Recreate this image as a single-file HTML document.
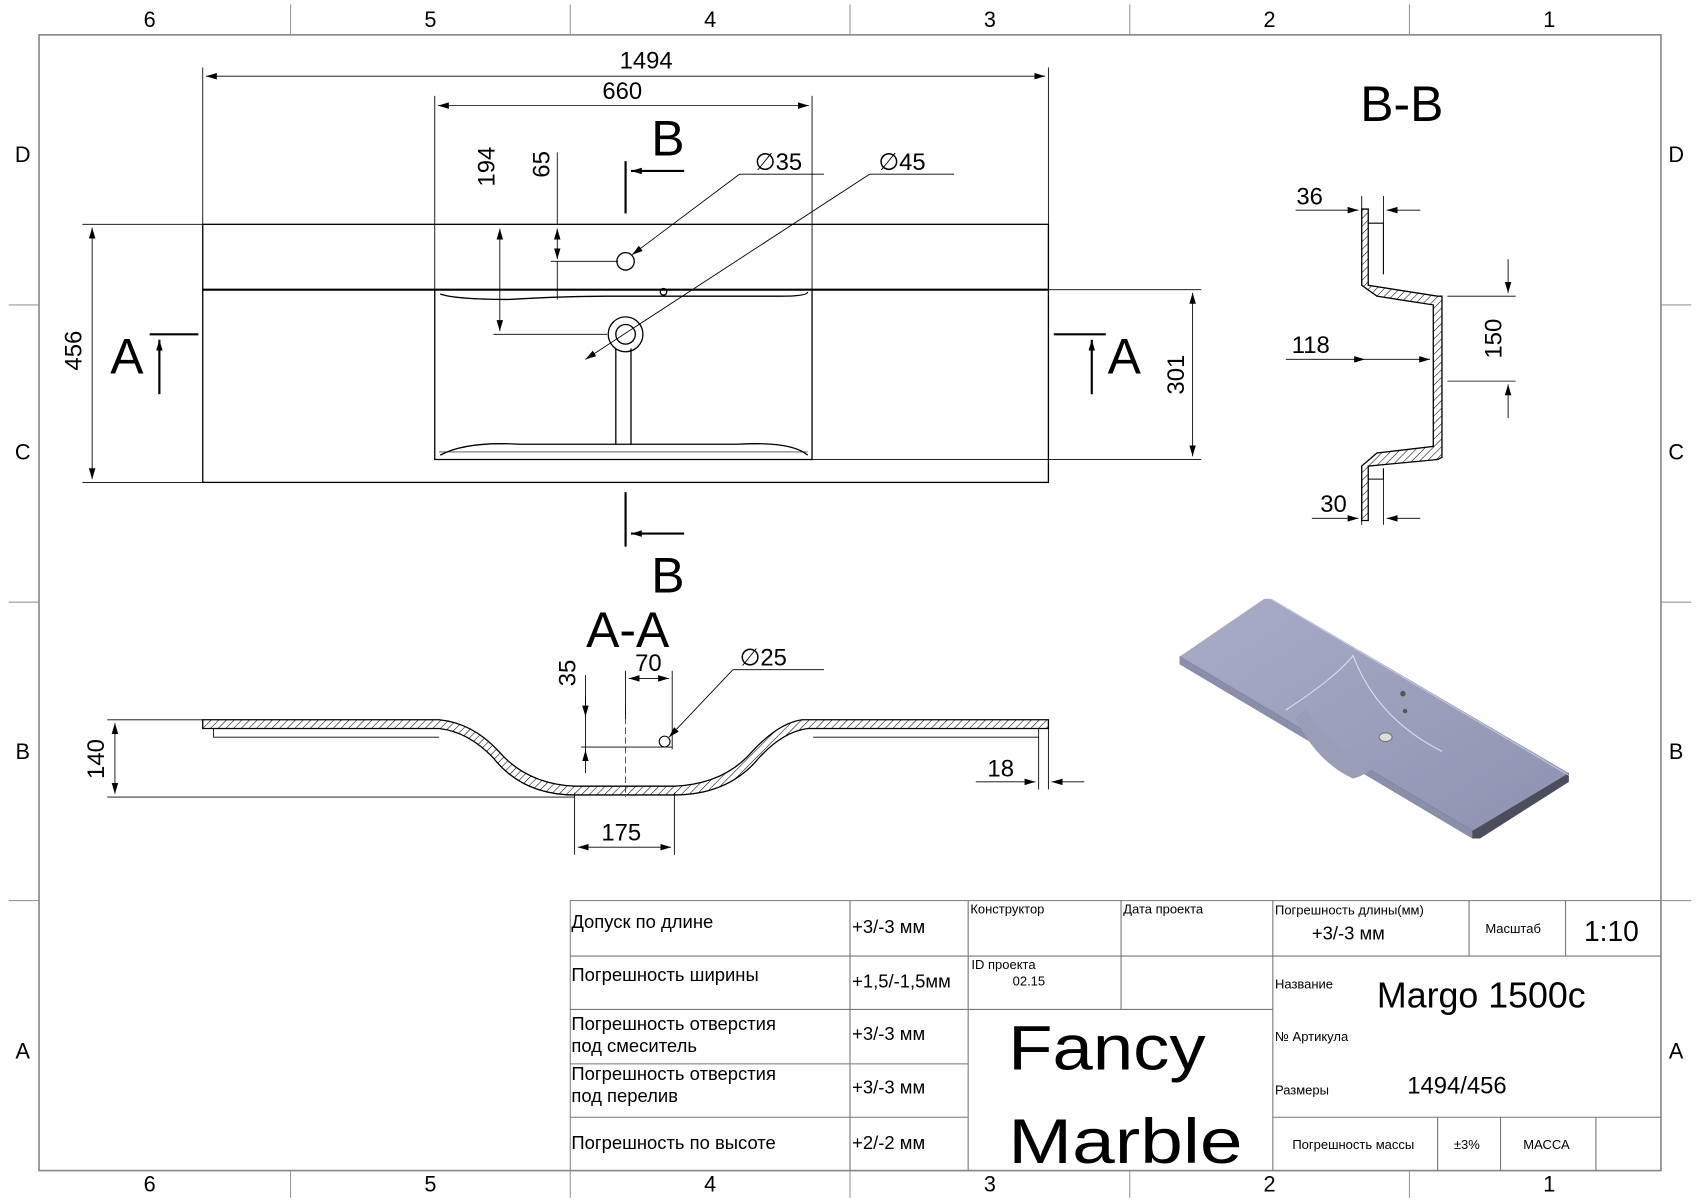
<!DOCTYPE html>
<html><head><meta charset="utf-8"><style>
html,body{margin:0;padding:0;background:#fff}
svg{display:block}
text{font-family:"Liberation Sans","DejaVu Sans",sans-serif;fill:#000}
.t{font-family:"DejaVu Sans","Liberation Sans",sans-serif}
</style></head><body>
<svg width="1700" height="1200" viewBox="0 0 1568 1102" preserveAspectRatio="none" xmlns="http://www.w3.org/2000/svg">
<defs>
<marker id="a" viewBox="0 0 10 6" refX="10" refY="3" markerWidth="10" markerHeight="6" orient="auto-start-reverse" markerUnits="userSpaceOnUse"><path d="M0,0L10,3L0,6z" fill="#000"/></marker>
<pattern id="h" width="5" height="5" patternUnits="userSpaceOnUse" patternTransform="rotate(45)"><line x1="0" y1="0" x2="0" y2="5" stroke="#000" stroke-width="1"/></pattern>
<linearGradient id="g" x1="0" y1="0" x2="1" y2="1"><stop offset="0" stop-color="#a9acc8"/><stop offset="1" stop-color="#8e92b0"/></linearGradient>
</defs>
<rect width="1568" height="1102" fill="#fff"/>
<g stroke="#999" stroke-width="1" fill="none">
<rect x="36" y="32" width="1496" height="1043" stroke="#888" stroke-width="1.5"/>
<line x1="268" y1="4" x2="268" y2="32"/><line x1="526" y1="4" x2="526" y2="32"/><line x1="784" y1="4" x2="784" y2="32"/><line x1="1042" y1="4" x2="1042" y2="32"/><line x1="1300" y1="4" x2="1300" y2="32"/>
<line x1="268" y1="1075" x2="268" y2="1100"/><line x1="526" y1="1075" x2="526" y2="1100"/><line x1="784" y1="1075" x2="784" y2="1100"/><line x1="1042" y1="1075" x2="1042" y2="1100"/><line x1="1300" y1="1075" x2="1300" y2="1100"/>
<line x1="8" y1="280" x2="36" y2="280"/><line x1="8" y1="553" x2="36" y2="553"/><line x1="8" y1="827" x2="36" y2="827"/>
<line x1="1532" y1="280" x2="1560" y2="280"/><line x1="1532" y1="553" x2="1560" y2="553"/><line x1="1532" y1="827" x2="1560" y2="827"/>
</g>
<g font-size="20" text-anchor="middle">
<text x="138" y="25">6</text><text x="397" y="25">5</text><text x="655" y="25">4</text><text x="913" y="25">3</text><text x="1171" y="25">2</text><text x="1429" y="25">1</text>
<text x="138" y="1094">6</text><text x="397" y="1094">5</text><text x="655" y="1094">4</text><text x="913" y="1094">3</text><text x="1171" y="1094">2</text><text x="1429" y="1094">1</text>
<text x="21" y="149">D</text><text x="21" y="422">C</text><text x="21" y="697">B</text><text x="21" y="972">A</text>
<text x="1546" y="149">D</text><text x="1546" y="422">C</text><text x="1546" y="697">B</text><text x="1546" y="972">A</text>
</g>
<!-- top view -->
<g stroke="#000" stroke-width="1.2" fill="none">
<rect x="187" y="206" width="780" height="237"/>
<line x1="187" y1="266" x2="967" y2="266" stroke-width="2"/>
<path d="M401,266 L401,422 L749,422 L749,266"/>
<path d="M406,270 Q420,275 470,275 Q520,272 560,272 L720,272 Q745,272 745,268"/>
<path d="M406,418 Q430,405 480,408 L680,408 Q730,405 745,418"/>
<path d="M405,415 L745,415" stroke-width="0.6"/>
<line x1="568" y1="320" x2="568" y2="408"/><line x1="582" y1="320" x2="582" y2="408"/>
<circle cx="577" cy="240" r="8"/>
<circle cx="577" cy="307" r="16"/><circle cx="577" cy="307" r="9"/>
<circle cx="612" cy="268" r="3"/>
</g>
<g stroke="#000" stroke-width="0.8" fill="none">
<line x1="187" y1="206" x2="187" y2="62"/><line x1="967" y1="206" x2="967" y2="62"/>
<line x1="190" y1="70" x2="964" y2="70" marker-start="url(#a)" marker-end="url(#a)"/>
<line x1="401" y1="266" x2="401" y2="88"/><line x1="749" y1="266" x2="749" y2="88"/>
<line x1="404" y1="97" x2="746" y2="97" marker-start="url(#a)" marker-end="url(#a)"/>
<line x1="461" y1="210" x2="461" y2="304" marker-start="url(#a)" marker-end="url(#a)"/>
<line x1="455" y1="307" x2="560" y2="307"/>
<line x1="514" y1="210" x2="514" y2="238" marker-start="url(#a)" marker-end="url(#a)"/>
<line x1="514" y1="140" x2="514" y2="206"/><line x1="514" y1="240" x2="514" y2="275"/>
<line x1="508" y1="240" x2="570" y2="240"/>
<line x1="682" y1="160" x2="760" y2="160"/><line x1="682" y1="160" x2="583" y2="234" marker-end="url(#a)"/>
<line x1="802" y1="160" x2="880" y2="160"/><line x1="802" y1="160" x2="540" y2="330" marker-end="url(#a)"/>
<line x1="76" y1="206" x2="187" y2="206"/><line x1="76" y1="443" x2="187" y2="443"/>
<line x1="85" y1="209" x2="85" y2="440" marker-start="url(#a)" marker-end="url(#a)"/>
<line x1="749" y1="266" x2="1108" y2="266"/><line x1="749" y1="422" x2="1108" y2="422"/>
<line x1="1100" y1="269" x2="1100" y2="419" marker-start="url(#a)" marker-end="url(#a)"/>
</g>
<g stroke="#000" stroke-width="2" fill="none">
<line x1="577" y1="148" x2="577" y2="196"/><line x1="631" y1="157" x2="582" y2="157" marker-end="url(#a)"/>
<line x1="577" y1="452" x2="577" y2="502"/><line x1="631" y1="490" x2="582" y2="490" marker-end="url(#a)"/>
<line x1="138" y1="307" x2="183" y2="307"/><line x1="147" y1="362" x2="147" y2="312" marker-end="url(#a)"/>
<line x1="972" y1="307" x2="1020" y2="307"/><line x1="1007" y1="362" x2="1007" y2="312" marker-end="url(#a)"/>
</g>
<g font-size="22" text-anchor="middle">
<text x="596" y="63">1494</text><text x="574" y="91">660</text>
<text x="456" y="153" transform="rotate(-90 456 153)">194</text>
<text x="507" y="151" transform="rotate(-90 507 151)">65</text>
<text x="718" y="156">∅35</text><text x="832" y="156">∅45</text>
<text x="75" y="322" transform="rotate(-90 75 322)">456</text>
<text x="1092" y="344" transform="rotate(-90 1092 344)">301</text>
</g>
<g font-size="46" text-anchor="middle">
<text x="616" y="143">B</text><text x="616" y="544">B</text>
<text x="117" y="343">A</text><text x="1037" y="343">A</text>
<text x="579" y="594">A-A</text><text x="1293" y="111">B-B</text>
</g>
<!-- B-B section -->
<path d="M1256,192 L1262,192 L1262,262 L1326,272 L1330,272 L1330,420 L1326,422 L1262,428 L1262,478 L1256,478 L1256,428 L1270,416 L1322,410 L1322,280 L1270,272 L1256,262 Z" fill="url(#h)" stroke="#000" stroke-width="1.2"/>
<path d="M1262,205 L1276,205 L1276,252 M1262,440 L1276,440 L1276,430" stroke="#000" stroke-width="1" fill="none"/>
<g stroke="#000" stroke-width="0.8" fill="none">
<line x1="1256" y1="192" x2="1256" y2="180"/><line x1="1276" y1="205" x2="1276" y2="180"/>
<line x1="1195" y1="193" x2="1253" y2="193" marker-end="url(#a)"/><line x1="1310" y1="193" x2="1279" y2="193" marker-end="url(#a)"/>
<line x1="1186" y1="330" x2="1259" y2="330" marker-end="url(#a)"/><line x1="1259" y1="330" x2="1319" y2="330" marker-end="url(#a)"/>
<line x1="1335" y1="272" x2="1398" y2="272"/><line x1="1335" y1="350" x2="1398" y2="350"/>
<line x1="1391" y1="238" x2="1391" y2="269" marker-end="url(#a)"/><line x1="1391" y1="384" x2="1391" y2="353" marker-end="url(#a)"/>
<line x1="1256" y1="440" x2="1256" y2="482"/><line x1="1276" y1="440" x2="1276" y2="482"/>
<line x1="1210" y1="476" x2="1253" y2="476" marker-end="url(#a)"/><line x1="1310" y1="476" x2="1279" y2="476" marker-end="url(#a)"/>
</g>
<g font-size="22" text-anchor="middle">
<text x="1208" y="188">36</text><text x="1209" y="324">118</text>
<text x="1385" y="311" transform="rotate(-90 1385 311)">150</text><text x="1230" y="470">30</text>
</g>
<!-- A-A section: thin shell -->
<path d="M187,661 L405,661 Q436,664 460,690 Q486,720 530,722 L622,722 Q668,720 694,690 Q718,664 740,661 L967,661 L967,669 L745,669 Q722,672 700,696 Q672,730 622,730 L530,730 Q482,730 455,696 Q432,672 405,669 L187,669 Z" fill="url(#h)" stroke="#000" stroke-width="1.2"/>
<path d="M197,669 L197,677 L405,677 M750,677 L958,677 L958,669" stroke="#000" stroke-width="0.8" fill="none"/>
<line x1="577" y1="650" x2="577" y2="732" stroke="#000" stroke-width="0.6" stroke-dasharray="6,3"/>
<circle cx="613" cy="681" r="5" fill="none" stroke="#000"/>
<g stroke="#000" stroke-width="0.8" fill="none">
<line x1="99" y1="661" x2="187" y2="661"/><line x1="99" y1="732" x2="530" y2="732"/>
<line x1="106" y1="664" x2="106" y2="729" marker-start="url(#a)" marker-end="url(#a)"/>
<line x1="540" y1="620" x2="540" y2="692"/><line x1="536" y1="686" x2="620" y2="686"/>
<line x1="540" y1="640" x2="540" y2="658" marker-end="url(#a)"/><line x1="540" y1="710" x2="540" y2="689" marker-end="url(#a)"/>
<line x1="577" y1="616" x2="577" y2="660"/><line x1="620" y1="616" x2="620" y2="688"/>
<line x1="580" y1="623" x2="617" y2="623" marker-start="url(#a)" marker-end="url(#a)"/>
<line x1="676" y1="615" x2="760" y2="615"/><line x1="676" y1="615" x2="617" y2="677" marker-end="url(#a)"/>
<line x1="530" y1="728" x2="530" y2="785"/><line x1="622" y1="728" x2="622" y2="785"/>
<line x1="533" y1="778" x2="619" y2="778" marker-start="url(#a)" marker-end="url(#a)"/>
<line x1="958" y1="677" x2="958" y2="725"/><line x1="967" y1="669" x2="967" y2="725"/>
<line x1="900" y1="718" x2="955" y2="718" marker-end="url(#a)"/><line x1="1000" y1="718" x2="970" y2="718" marker-end="url(#a)"/>
</g>
<g font-size="22" text-anchor="middle">
<text x="96" y="697" transform="rotate(-90 96 697)">140</text>
<text x="531" y="618" transform="rotate(-90 531 618)">35</text>
<text x="598" y="616">70</text><text x="704" y="611">∅25</text>
<text x="573" y="772">175</text><text x="923" y="713">18</text>
</g>
<!-- 3D -->
<path d="M1088,603 L1166,550 L1173,550 L1447,710 L1447,718 L1365,770 L1358,770 L1088,610 Z" fill="url(#g)"/>
<path d="M1088,603 L1358,763 L1365,763 L1447,710" fill="none" stroke="#7d809c" stroke-width="1"/>
<path d="M1088,603 L1088,610 L1358,770 L1358,763Z" fill="#8a8ea9"/>
<path d="M1358,763 L1447,710 L1447,718 L1365,770 L1358,770Z" fill="#4b4d5c"/>
<path d="M1172,550 L1447,712" stroke="#c5c8dc" stroke-width="1" fill="none"/>
<path d="M1204,651 Q1230,690 1270,702 Q1260,712 1248,715 Q1215,700 1195,660 Z" fill="#9a9db8"/>
<path d="M1186,652 Q1232,622 1248,602 Q1270,660 1330,690" stroke="#dde" stroke-width="1" fill="none"/>
<ellipse cx="1278" cy="677" rx="6" ry="4" fill="#ddd" stroke="#777"/>
<circle cx="1294" cy="637" r="2.5" fill="#555"/><circle cx="1296" cy="653" r="2" fill="#555"/>
<!-- title block -->
<g stroke="#777" stroke-width="1" fill="none">
<rect x="526" y="827" width="1006" height="248" stroke="#888"/>
<line x1="526" y1="878" x2="893" y2="878"/><line x1="526" y1="927" x2="1174" y2="927"/><line x1="526" y1="977" x2="893" y2="977"/><line x1="526" y1="1026" x2="893" y2="1026"/>
<line x1="893" y1="878" x2="1174" y2="878"/>
<line x1="784" y1="827" x2="784" y2="1075"/><line x1="893" y1="827" x2="893" y2="1075"/><line x1="1034" y1="827" x2="1034" y2="927"/><line x1="1174" y1="827" x2="1174" y2="1075"/>
<line x1="1174" y1="878" x2="1532" y2="878"/><line x1="1174" y1="1026" x2="1532" y2="1026"/>
<line x1="1355" y1="827" x2="1355" y2="878"/><line x1="1444" y1="827" x2="1444" y2="878"/>
<line x1="1326" y1="1026" x2="1326" y2="1075"/><line x1="1384" y1="1026" x2="1384" y2="1075"/><line x1="1472" y1="1026" x2="1472" y2="1075"/>
</g>
<g class="t" font-size="17">
<text x="527" y="852">Допуск по длине</text>
<text x="527" y="901">Погрешность ширины</text>
<text x="527" y="946">Погрешность отверстия</text><text x="527" y="966">под смеситель</text>
<text x="527" y="992">Погрешность отверстия</text><text x="527" y="1012">под перелив</text>
<text x="527" y="1055">Погрешность по высоте</text>
<text x="786" y="857">+3/-3 мм</text><text x="786" y="907">+1,5/-1,5мм</text><text x="786" y="955">+3/-3 мм</text><text x="786" y="1004">+3/-3 мм</text><text x="786" y="1055">+2/-2 мм</text>
</g>
<g class="t" font-size="12">
<text x="895" y="839">Конструктор</text><text x="1036" y="839">Дата проекта</text>
<text x="896" y="890">ID проекта</text><text x="934" y="905">02.15</text>
<text x="1176" y="840">Погрешность длины(мм)</text>
<text x="1370" y="857">Масштаб</text>
<text x="1176" y="908">Название</text><text x="1176" y="956">№ Артикула</text><text x="1176" y="1005">Размеры</text>
<text x="1192" y="1055">Погрешность массы</text><text x="1341" y="1055">±3%</text><text x="1405" y="1055">МАССА</text>
</g>
<g class="t">
<text x="1210" y="863" font-size="17">+3/-3 мм</text>
<text x="1461" y="864" font-size="26">1:10</text>
<text x="1270" y="925" font-size="33">Margo 1500c</text>
<text x="1298" y="1004" font-size="22">1494/456</text>
<text x="930" y="982" font-size="58" textLength="182" lengthAdjust="spacingAndGlyphs">Fancy</text>
<text x="930" y="1068" font-size="58" textLength="216" lengthAdjust="spacingAndGlyphs">Marble</text>
</g>
</svg>
</body></html>
